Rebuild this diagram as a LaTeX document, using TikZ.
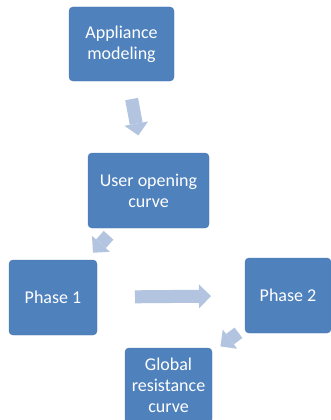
\documentclass[tikz,border=0pt]{standalone}
\usepackage{fontspec}
\setmainfont{Carlito}
\usetikzlibrary{arrows.meta}
\definecolor{boxblue}{RGB}{79,129,189}
\definecolor{boxedge}{RGB}{72,120,180}
\definecolor{arrowblue}{RGB}{178,196,224}
\tikzset{
  stepbox/.style={draw=boxedge, fill=boxblue, rounded corners=4pt, align=center,
    text=white, font=\fontsize{18}{21}\selectfont, inner sep=0pt},
  flow/.style={draw=arrowblue, line width=13pt,
    -{Triangle[width=24pt,length=12pt,line width=0pt]}},
}
\begin{document}
\begin{tikzpicture}[x=1pt,y=-1pt]
            \useasboundingbox (0,0) rectangle (330,420);

            \node[stepbox, minimum width=105pt, minimum height=74pt] (app) at (121.5, 44) {Appliance\\modeling};
            \node[stepbox, minimum width=121pt, minimum height=75pt] (user) at (148.5, 190.5) {User opening\\curve};
            \node[stepbox, minimum width=88pt, minimum height=75pt] (ph1) at (53, 297.5) {Phase 1};
            \node[stepbox, minimum width=86pt, minimum height=75pt] (ph2) at (288, 295.5) {Phase 2};
            \node[stepbox, minimum width=87pt, minimum height=75pt] (glob) at (168.5, 385.5) {Global\\resistance\\curve};

            \draw[flow, shorten <=56pt, shorten >=56pt] (app.center) -- (user.center);
            \draw[flow, shorten <=60pt, shorten >=60pt] (user.center) -- (ph1.center);
            \draw[flow, shorten <=82pt, shorten >=77pt] (ph1.center) -- (ph2.center);
            \draw[flow, shorten <=62pt, shorten >=65pt] (ph2.center) -- (glob.center);
\end{tikzpicture}
\end{document}
